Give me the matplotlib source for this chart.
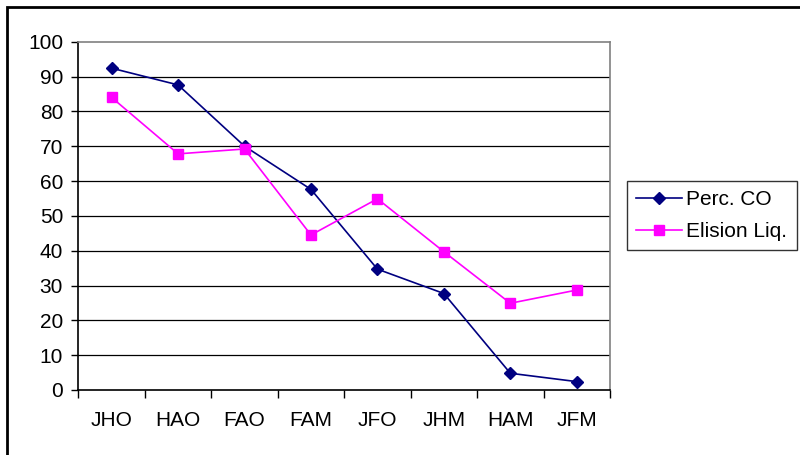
"""
Perc. CO vs Elision Liq. per condition
"""

import matplotlib
matplotlib.use("Agg")
import matplotlib.pyplot as plt
import matplotlib.patches as patches

plt.rcParams['font.family'] = ['Liberation Sans', 'DejaVu Sans']

categories = ["JHO", "HAO", "FAO", "FAM", "JFO", "JHM", "HAM", "JFM"]
perc_co = [92.4, 87.6, 70.0, 57.6, 34.7, 27.7, 4.8, 2.4]
elision_liq = [84.0, 67.8, 69.2, 44.5, 54.9, 39.7, 24.9, 28.7]
y_ticks = [0, 10, 20, 30, 40, 50, 60, 70, 80, 90, 100]

fs = 15

fig = plt.figure(figsize=(8, 4.55), dpi=100)
ax = fig.add_axes([0.098, 0.1429, 0.6645, 0.7654])

x = list(range(len(categories)))
ax.plot(x, perc_co, color='#000080', lw=1.2, marker='D', ms=6.5,
        label="Perc. CO", zorder=3)
ax.plot(x, elision_liq, color='#FF00FF', lw=1.2, marker='s', ms=7,
        label="Elision Liq.", zorder=3)

ax.set_xlim(-0.5, len(categories) - 0.5)
ax.set_ylim(0, 100)
ax.set_yticks(y_ticks)
ax.set_yticklabels([str(v) for v in y_ticks], fontsize=fs)
ax.set_xticks(x)
ax.set_xticklabels(categories, fontsize=fs)
ax.set_xticks([i - 0.5 for i in range(len(categories) + 1)], minor=True)
ax.tick_params(axis='x', which='major', length=0, pad=15)
ax.tick_params(axis='x', which='minor', length=6, width=1, color='black', direction='out')
ax.tick_params(axis='y', length=5, width=1, color='black', direction='out', pad=6)

for v in y_ticks[1:-1]:
    ax.axhline(v, color='black', lw=0.9, zorder=1)
for s in ax.spines.values():
    s.set_color('#808080')
    s.set_linewidth(1.2)
ax.spines['bottom'].set_color('black')
ax.spines['left'].set_color('black')

leg = fig.legend(loc='upper left', bbox_to_anchor=(627 / 800, 1 - 181 / 455),
                 fontsize=fs, frameon=True, fancybox=False, borderpad=0.45,
                 handlelength=2.2, handletextpad=0.2, labelspacing=0.6,
                 borderaxespad=0)
leg.get_frame().set_edgecolor('black')
leg.get_frame().set_linewidth(1.0)

# outer chart frame
fig.patches.append(patches.Rectangle((7 / 800, -0.05), 1.1, 1 - 7 / 455 + 0.05,
                                     transform=fig.transFigure, fill=False,
                                     edgecolor='black', lw=2))

plt.savefig("out.png", dpi=100)
